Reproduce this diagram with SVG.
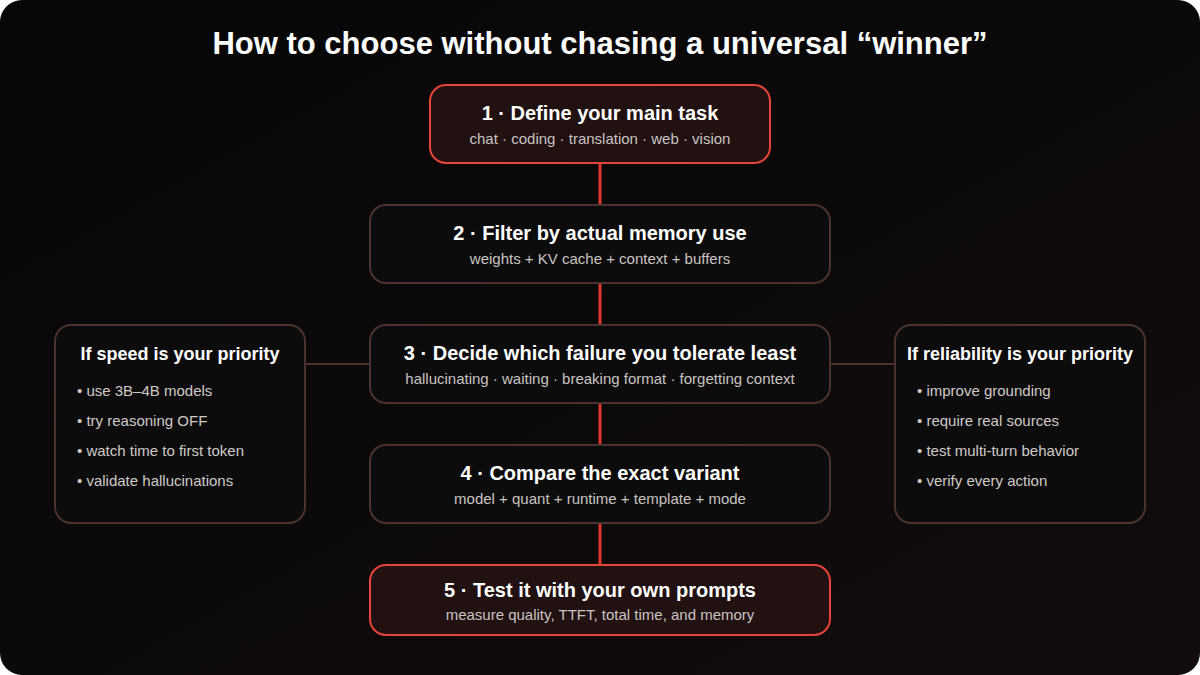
<svg xmlns="http://www.w3.org/2000/svg" width="1200" height="675" viewBox="0 0 1200 675">
<defs>
<linearGradient id="bg" x1="0" y1="0" x2="1" y2="1"><stop offset="0" stop-color="#060606"/><stop offset="1" stop-color="#120d0c"/></linearGradient>
<style>
.t{font-family:"Liberation Sans",Arial,sans-serif;fill:#fff;font-weight:bold;text-anchor:middle}
.s{font-family:"Liberation Sans",Arial,sans-serif;fill:#c9c4c2;font-size:15px;text-anchor:middle}
.b{font-family:"Liberation Sans",Arial,sans-serif;fill:#cfcac8;font-size:15px}
.n{fill:#0d0c0c;stroke:#4a3230;stroke-width:2}
.h{fill:#211111;stroke:#e8453a;stroke-width:2}
</style>
</defs>
<rect width="1200" height="675" rx="22" fill="url(#bg)"/>
<text class="t" x="600" y="54" font-size="31">How to choose without chasing a universal “winner”</text>
<g id="connectors">
<g stroke="#e0362c" stroke-width="3"><line x1="600" y1="163" x2="600" y2="205"/><line x1="600" y1="283" x2="600" y2="325"/><line x1="600" y1="403" x2="600" y2="445"/><line x1="600" y1="523" x2="600" y2="565"/></g>
<g stroke="#4a3230" stroke-width="2"><line x1="305" y1="364" x2="370" y2="364"/><line x1="830" y1="364" x2="895" y2="364"/></g>
</g>
<g id="n1"><rect class="h" x="430" y="85" width="340" height="78" rx="16"/><text class="t" x="600" y="120" font-size="20">1 · Define your main task</text><text class="s" x="600" y="144">chat · coding · translation · web · vision</text></g>
<g id="n2"><rect class="n" x="370" y="205" width="460" height="78" rx="16"/><text class="t" x="600" y="240" font-size="20">2 · Filter by actual memory use</text><text class="s" x="600" y="264">weights + KV cache + context + buffers</text></g>
<g id="n3"><rect class="n" x="370" y="325" width="460" height="78" rx="16"/><text class="t" x="600" y="360" font-size="20">3 · Decide which failure you tolerate least</text><text class="s" x="600" y="384">hallucinating · waiting · breaking format · forgetting context</text></g>
<g id="n4"><rect class="n" x="370" y="445" width="460" height="78" rx="16"/><text class="t" x="600" y="480" font-size="20">4 · Compare the exact variant</text><text class="s" x="600" y="504">model + quant + runtime + template + mode</text></g>
<g id="n5"><rect class="h" x="370" y="565" width="460" height="70" rx="16"/><text class="t" x="600" y="597" font-size="20">5 · Test it with your own prompts</text><text class="s" x="600" y="620">measure quality, TTFT, total time, and memory</text></g>
<g id="speed"><rect class="n" x="55" y="325" width="250" height="198" rx="16"/><text class="t" x="180" y="360" font-size="18">If speed is your priority</text>
<text class="b" x="77" y="396">• use 3B–4B models</text><text class="b" x="77" y="426">• try reasoning OFF</text><text class="b" x="77" y="456">• watch time to first token</text><text class="b" x="77" y="486">• validate hallucinations</text></g>
<g id="rel"><rect class="n" x="895" y="325" width="250" height="198" rx="16"/><text class="t" x="1020" y="360" font-size="18">If reliability is your priority</text>
<text class="b" x="917" y="396">• improve grounding</text><text class="b" x="917" y="426">• require real sources</text><text class="b" x="917" y="456">• test multi-turn behavior</text><text class="b" x="917" y="486">• verify every action</text></g>
</svg>
